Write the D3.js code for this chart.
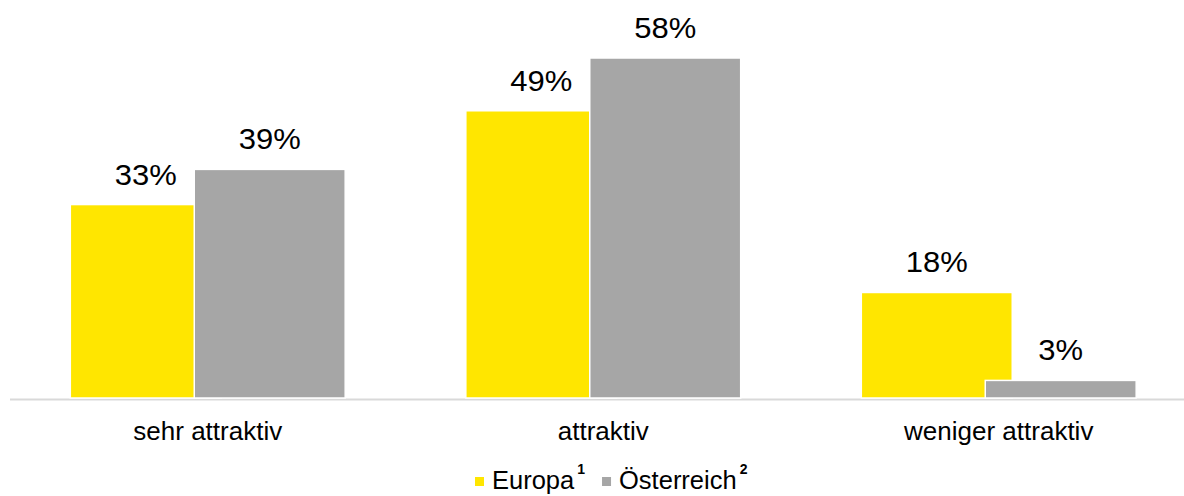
<!DOCTYPE html>
<html>
<head>
<meta charset="utf-8">
<script src="https://cdn.jsdelivr.net/npm/d3@7"></script>
<style>
  body { margin: 0; background: #fff; }
  svg { display: block; font-family: Arial, "Liberation Sans", sans-serif; }
</style>
</head>
<body>
<div id="chart"></div>
<script>
// chart data
var categories = ['sehr attraktiv', 'attraktiv', 'weniger attraktiv'];
var seriesNames = ['Europa', 'Österreich'];
var seriesSup = ['1', '2'];
var europa = [33, 49, 18];
var oesterreich = [39, 58, 3];
var colors = ['#FFE600', '#A6A6A6'];

var W = 1184, H = 496;
var base = 398;

var svg = d3.select('#chart').append('svg')
    .attr('width', W)
    .attr('height', H);

var x = d3.scaleBand()
    .domain(categories)
    .range([10, 1196.5])
    .paddingInner(0.305)
    .paddingOuter(0.1525);

var y = d3.scaleLinear()
    .domain([0, 58])
    .range([base, 58]);

var bw = x.bandwidth();
var barW = bw * 151 / 275;
var shift = bw - barW;   // bars overlap a little, like the excel original

var allSeries = [europa, oesterreich];

// baseline
svg.append('line')
    .attr('x1', 10).attr('x2', W)
    .attr('y1', base + 1.5).attr('y2', base + 1.5)
    .attr('stroke', '#D9D9D9')
    .attr('stroke-width', 2);

allSeries.forEach(function(vals, si) {
    var g = svg.append('g');
    g.selectAll('rect')
        .data(vals)
        .enter()
        .append('rect')
        .attr('x', (d, i) => x(categories[i]) + si * shift)
        .attr('y', d => y(d))
        .attr('width', barW)
        .attr('height', d => base - y(d))
        .attr('fill', colors[si])
        .attr('stroke', '#fff')
        .attr('stroke-width', 1.5);

    g.selectAll('text')
        .data(vals)
        .enter()
        .append('text')
        .attr('transform', (d, i) => 'translate(' + (x(categories[i]) + si * shift + barW / 2) + ',' + (y(d) - 20) + ') scale(1.05,1)')
        .attr('text-anchor', 'middle')
        .attr('font-size', '29.5px')
        .attr('fill', '#000')
        .text(d => d + '%');
});

// category labels
svg.append('g')
    .selectAll('text')
    .data(categories)
    .enter()
    .append('text')
    .attr('x', d => x(d) + bw / 2)
    .attr('y', 440)
    .attr('text-anchor', 'middle')
    .attr('font-size', '26px')
    .attr('fill', '#000')
    .text(d => d);

// legend
var leg = svg.append('g').attr('transform', 'translate(475,489)');
var lx = 0;
seriesNames.forEach(function(name, i) {
    leg.append('rect')
        .attr('x', lx).attr('y', -12)
        .attr('width', 9).attr('height', 9)
        .attr('fill', colors[i]);
    lx += 17;
    var t = leg.append('text')
        .attr('x', lx)
        .attr('font-size', '25.5px')
        .attr('fill', '#000')
        .text(name);
    lx += t.node().getComputedTextLength() + 3;
    var s = leg.append('text')
        .attr('x', lx).attr('y', -15)
        .attr('font-size', '14px')
        .attr('font-weight', 'bold')
        .attr('fill', '#000')
        .text(seriesSup[i]);
    lx += s.node().getComputedTextLength() + 17;
});
</script>
</body>
</html>
